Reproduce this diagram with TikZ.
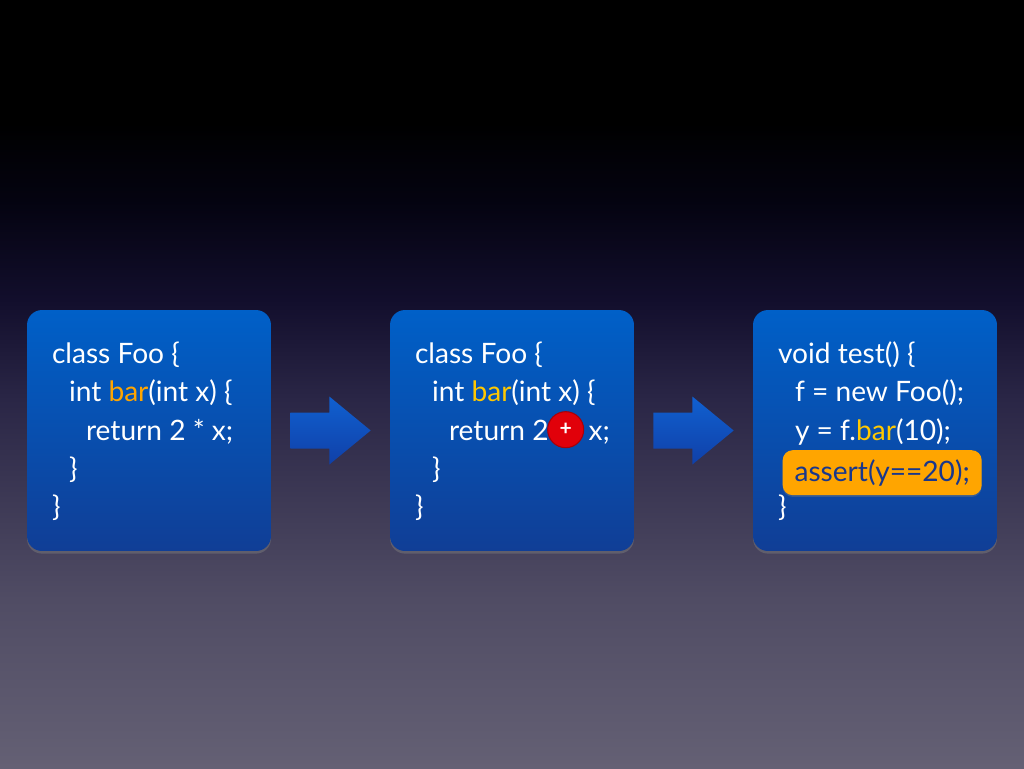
\documentclass[tikz,border=0pt]{standalone}
\usepackage{fontspec}
\setmainfont{Lato}
\definecolor{bgbot}{RGB}{100,96,116}
\definecolor{bglow}{RGB}{80,76,100}
\definecolor{bgmid}{RGB}{42,38,70}
\definecolor{bgdark}{RGB}{18,14,44}
\definecolor{bgnight}{RGB}{4,3,16}
\definecolor{boxtop}{RGB}{0,96,200}
\definecolor{boxbot}{RGB}{16,62,150}
\definecolor{arrowtop}{RGB}{16,96,208}
\definecolor{arrowbot}{RGB}{16,64,168}
\definecolor{barorange}{RGB}{255,165,0}
\definecolor{baryellow}{RGB}{255,200,0}
\definecolor{hlorange}{RGB}{255,165,0}
\definecolor{hltext}{RGB}{25,55,140}
\definecolor{mutred}{RGB}{225,0,10}
\usetikzlibrary{positioning, calc, shadows}
\pgfdeclareverticalshading{slidebg}{100bp}{color(0bp)=(bgbot); color(25bp)=(bgbot); color(36bp)=(bglow); color(49bp)=(bgmid); color(55.5bp)=(bgdark); color(62bp)=(bgnight); color(67bp)=(black); color(100bp)=(black)}
\newcommand{\codefont}{\fontsize{16pt}{21.8pt}\selectfont}
\newcommand{\ind}{\hspace*{0.34cm}}
\tikzset{
    codebox/.style={rectangle, rounded corners=0.3cm, top color=boxtop, bottom color=boxbot,
                    minimum width=4.88cm, minimum height=4.82cm,
                    drop shadow={opacity=0.45, shadow xshift=0pt, shadow yshift=-1.5pt}},
    codetext/.style={anchor=base west, inner sep=0pt, align=left, text=white, font=\codefont},
    blockarrow/.style={top color=arrowtop, bottom color=arrowbot},
    mutant/.style={circle, fill=mutred, draw=mutred!75!black, line width=0.6pt, minimum size=0.72cm,
                   inner sep=0pt, text=white, font=\bfseries\large},
    hlbox/.style={rectangle, rounded corners=0.2cm, fill=hlorange, text=hltext, font=\codefont,
                  minimum width=3.98cm, minimum height=0.9cm, inner sep=0pt,
                  drop shadow={opacity=0.35, shadow xshift=0pt, shadow yshift=-1pt}},
}
\begin{document}
\begin{tikzpicture}[x=0.02cm, y=-0.02cm]
\useasboundingbox (0,0) rectangle (1024,768);
\shade[shading=slidebg] (0,0) rectangle (1024,768);

% the three slides
\node[codebox] (foo) at (149,430.5) {};
\node[codebox] (foomut) at (512,430.5) {};
\node[codebox] (footest) at (875,430.5) {};

\node[codetext] (foocode) at ($(foo.north west)+(25,207)$)
    {class Foo \{\\ \ind int \textcolor{barorange}{bar}(int x) \{\\ \ind\ind return 2 * x;\\ \ind \}\\ \}};
\node[codetext] (mutcode) at ($(foomut.north west)+(25,207)$)
    {class Foo \{\\ \ind int \textcolor{baryellow}{bar}(int x) \{\\ \ind\ind return 2\hspace{0.8cm}x;\\ \ind \}\\ \}};
\node[codetext] (testcode) at ($(footest.north west)+(25,207)$)
    {void test() \{\\ \ind f = new Foo();\\ \ind y = f.\textcolor{baryellow}{bar}(10);\\ \mbox{}\\ \}};

\node[mutant] (mut) at ($(foomut.north west)+(176,120)$) {+};
\node[hlbox] (assert) at ($(footest.north west)+(129.5,163)$) {assert(y==20);};

% arrows between slides
\coordinate (a1) at ($(foo.east)+(19,0)$);
\coordinate (b1) at ($(foomut.west)+(-19,0)$);
\coordinate (a2) at ($(foomut.east)+(19,0)$);
\coordinate (b2) at ($(footest.west)+(-19,0)$);
\shade[blockarrow] (a1) ++(0,-18) -- ++(39,0) -- ++(0,-16) -- (b1) -- ($(a1)+(39,34)$) -- ++(0,-16) -- ++(-39,0) -- cycle;
\shade[blockarrow] (a2) ++(0,-18) -- ++(39,0) -- ++(0,-16) -- (b2) -- ($(a2)+(39,34)$) -- ++(0,-16) -- ++(-39,0) -- cycle;
\end{tikzpicture}
\end{document}
